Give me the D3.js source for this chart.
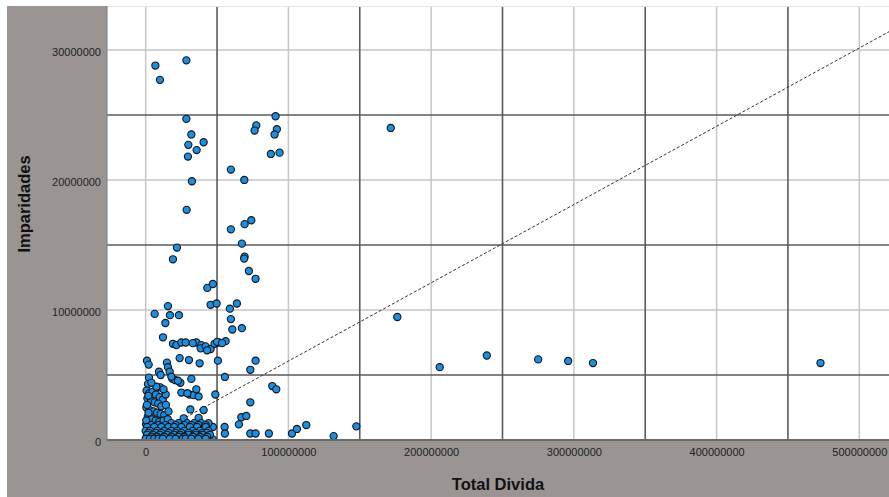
<!DOCTYPE html>
<html>
<head>
<meta charset="utf-8">
<script src="https://cdn.jsdelivr.net/npm/d3@7"></script>
<style>
  html, body { margin: 0; padding: 0; background: #ffffff; }
  svg { display: block; font-family: Arial, "Liberation Sans", sans-serif; }
</style>
</head>
<body>
<svg id="chart" width="889" height="497"></svg>
<script>
// ---------------- DATA (values in millions; UNIT converts to raw) ----------------
const UNIT = 1e6;
const xTitle = "Total Divida";
const yTitle = "Imparidades";
const xTickValues = [0, 100000000, 200000000, 300000000, 400000000, 500000000];
const yTickValues = [0, 10000000, 20000000, 30000000];
const xMidLines = [50000000, 150000000, 250000000, 350000000, 450000000];
const yMidLines = [5000000, 15000000, 25000000];
const fitIntercept = 50000;
const fitSlope = 0.0602;

// Total Divida (millions)
const totalDivida = [
  6.8, 28.5, 10.0, 28.5, 32.0, 29.9, 40.6, 35.7, 29.6, 32.4, 28.7, 59.7, 69.1, 91.0, 77.5, 76.3, 91.9, 90.3, 87.7, 93.8,
  59.7, 69.3, 74.0, 67.4, 21.9, 19.1, 69.3, 69.0, 72.3, 77.0, 43.2, 47.1, 45.5, 49.7, 15.6, 6.3, 17.0, 23.3, 13.8, 59.0,
  63.9, 59.7, 60.7, 67.4, 12.1, 176.3, 171.7,
  19.1, 21.5, 25.0, 28.0, 35.5, 39.0, 38.5, 42.0, 45.5, 48.3, 51.3, 56.0, 50.0, 43.0, 53.5, 33.0,
  23.8, 30.3, 37.8, 50.6, 77.0, 73.3, 0.9, 2.1, 14.9, 15.6, 9.3, 16.8, 18.7, 20.8, 24.3, 32.0, 55.5, 2.3, 1.6, 10.3,
  25.0, 30.8, 33.6, 35.5, 37.1, 48.8, 88.7, 91.5, 73.3, 31.3, 37.1, 40.6, 67.0, 70.5, 65.3, 55.3, 47.1, 73.3, 77.0, 86.3,
  102.5, 106.0, 112.5, 55.5, 131.7, 147.6, 206.0, 239.0, 275.0, 296.0, 313.4, 472.8, 10.5, 18.0, 22.6, 29.2, 26.6, 47.0,
  0.6, 2.5, 4.8, 7.2, 9.8, 12.0, 1.2, 3.8, 6.3, 8.8, 11.0, 14.2, 0.5, 2.8, 5.5, 8.0, 10.5, 13.0, 16.0, 1.5,
  4.2, 7.0, 9.5, 12.5, 15.5, 0.3, 3.0, 5.8, 14.0, 7.5, 12.5, 4.0,
  0.8, 1.8, 0.4, 2.0, 0.9, 1.9,
  18, 23, 29, 34, 39, 44,
  4, 9, 14, 21, 27, 32, 37, 42,
  1, 6, 11, 16, 20, 25, 31, 36, 42,
  0, 3, 8, 13, 18, 22, 27, 33, 38, 44,
  2, 7, 11, 16, 21, 25, 30, 35, 40, 43,
  1, 5, 10, 15, 20, 24, 30, 35, 40, 45,
  4, 8, 13, 18, 23, 27, 33, 38, 43,
  0, 3, 6, 9, 12, 17, 21, 26, 28, 32, 37, 42
];

// Imparidades (millions)
const imparidades = [
  28.8, 29.2, 27.7, 24.7, 23.5, 22.7, 22.9, 22.3, 21.8, 19.9, 17.7, 20.8, 20.0, 24.9, 24.2, 23.8, 23.9, 23.5, 22.0, 22.1,
  16.2, 16.6, 16.9, 15.1, 14.8, 13.9, 14.1, 13.95, 13.0, 12.4, 11.7, 12.0, 10.4, 10.5, 10.3, 9.7, 9.6, 9.6, 9.0, 10.1,
  10.5, 9.3, 8.5, 8.6, 7.9, 9.46, 24.0,
  7.4, 7.3, 7.5, 7.5, 7.5, 7.3, 7.05, 7.2, 7.0, 7.4, 7.5, 7.6, 7.55, 6.9, 7.45, 7.45,
  6.3, 6.15, 5.9, 6.1, 6.1, 5.4, 6.1, 5.8, 5.95, 5.6, 5.25, 5.25, 4.7, 4.6, 4.4, 4.7, 4.85, 4.8, 4.3, 4.05,
  3.65, 3.5, 3.45, 3.9, 3.35, 3.5, 4.15, 3.9, 2.9, 2.35, 1.7, 2.3, 1.75, 1.85, 1.2, 1.0, 1.0, 0.5, 0.5, 0.5,
  0.5, 0.85, 1.15, 0.5, 0.3, 1.05, 5.6, 6.5, 6.2, 6.08, 5.92, 5.92, 5.0, 4.87, 4.56, 3.6, 1.67, 0.05,
  3.8, 3.6, 3.7, 3.5, 3.3, 3.1, 3.2, 3.0, 2.9, 2.8, 2.6, 2.7, 2.5, 2.3, 2.2, 2.1, 2.0, 1.9, 2.2, 1.8,
  1.6, 1.5, 1.4, 1.5, 1.6, 1.2, 1.1, 1.05, 3.5, 4.1, 3.9, 4.4,
  0.3, 0.9, 1.5, 2.1, 2.7, 3.4,
  1.3, 1.3, 1.3, 1.3, 1.3, 1.3,
  1.15, 1.15, 1.15, 1.15, 1.15, 1.15, 1.15, 1.15,
  1.0, 1.0, 1.0, 1.0, 1.0, 1.0, 1.0, 1.0, 1.0,
  0.7, 0.7, 0.7, 0.7, 0.7, 0.7, 0.7, 0.7, 0.7, 0.7,
  0.55, 0.55, 0.55, 0.55, 0.55, 0.55, 0.55, 0.55, 0.55, 0.55,
  0.4, 0.4, 0.4, 0.4, 0.4, 0.4, 0.4, 0.4, 0.4, 0.4,
  0.25, 0.25, 0.25, 0.25, 0.25, 0.25, 0.25, 0.25, 0.25,
  0.1, 0.1, 0.1, 0.1, 0.1, 0.1, 0.1, 0.1, 0.1, 0.1, 0.1, 0.1
];

// ---------------- CHART ----------------
const W = 889, H = 497;
const plot = { left: 107, top: 6, right: 889, bottom: 440 };

const x = d3.scaleLinear().domain([-27.1e6, 520.8e6]).range([plot.left, plot.right]);
const y = d3.scaleLinear().domain([0, 33.38e6]).range([plot.bottom, plot.top]);

const svg = d3.select("#chart");

// gray frame
svg.append("rect").attr("x", 7).attr("y", 6).attr("width", W - 7).attr("height", H - 6).attr("fill", "#9a9593");
// plot background
svg.append("rect").attr("x", plot.left).attr("y", plot.top)
  .attr("width", plot.right - plot.left).attr("height", plot.bottom - plot.top).attr("fill", "#ffffff");

svg.append("defs").append("clipPath").attr("id", "clip").append("rect")
  .attr("x", plot.left).attr("y", plot.top)
  .attr("width", plot.right - plot.left).attr("height", plot.bottom - plot.top);

const grid = svg.append("g");
// light gridlines at labelled ticks
grid.selectAll("line.vl").data(xTickValues).join("line")
  .attr("x1", d => x(d)).attr("x2", d => x(d)).attr("y1", plot.top).attr("y2", plot.bottom)
  .attr("stroke", "#c6c6c6").attr("stroke-width", 1.5);
grid.selectAll("line.hl").data(yTickValues.filter(d => d > 0)).join("line")
  .attr("x1", plot.left).attr("x2", plot.right).attr("y1", d => y(d)).attr("y2", d => y(d))
  .attr("stroke", "#c6c6c6").attr("stroke-width", 1.5);
// dark gridlines at midpoints
grid.selectAll("line.vd").data(xMidLines).join("line")
  .attr("x1", d => x(d)).attr("x2", d => x(d)).attr("y1", plot.top).attr("y2", plot.bottom)
  .attr("stroke", "#5a5a5a").attr("stroke-width", 1.6);
grid.selectAll("line.hd").data(yMidLines).join("line")
  .attr("x1", plot.left).attr("x2", plot.right).attr("y1", d => y(d)).attr("y2", d => y(d))
  .attr("stroke", "#5a5a5a").attr("stroke-width", 1.6);
// top faint line
svg.append("line").attr("x1", plot.left).attr("x2", plot.right).attr("y1", plot.top + 0.5).attr("y2", plot.top + 0.5)
  .attr("stroke", "#e4e4e4").attr("stroke-width", 1);

const points = totalDivida.map((v, i) => ({ x: v * UNIT, y: imparidades[i] * UNIT }));

const body = svg.append("g").attr("clip-path", "url(#clip)");

// fit line
const xd = x.domain();
body.append("line")
  .attr("x1", x(xd[0])).attr("y1", y(fitIntercept + fitSlope * xd[0]))
  .attr("x2", x(xd[1])).attr("y2", y(fitIntercept + fitSlope * xd[1]))
  .attr("stroke", "#333").attr("stroke-width", 1).attr("stroke-dasharray", "3,2");

body.selectAll("circle").data(points).join("circle")
  .attr("cx", d => x(d.x)).attr("cy", d => y(d.y)).attr("r", 3.6)
  .attr("fill", "#1a8fe3").attr("stroke", "#141414").attr("stroke-width", 1.1);

// axis borders
svg.append("line").attr("x1", plot.left).attr("x2", plot.right).attr("y1", plot.bottom).attr("y2", plot.bottom)
  .attr("stroke", "#6a6a6a").attr("stroke-width", 2);
svg.append("line").attr("x1", plot.left).attr("x2", plot.left).attr("y1", plot.top).attr("y2", plot.bottom)
  .attr("stroke", "#7a7a7a").attr("stroke-width", 1);

// axes (labels only)
const xAxis = d3.axisBottom(x).tickValues(xTickValues).tickFormat(d3.format("d")).tickSize(0).tickPadding(0);
const gx = svg.append("g").attr("transform", `translate(0,${plot.bottom + 8})`).call(xAxis);
gx.select(".domain").remove();
gx.selectAll("text").attr("font-size", 11).attr("fill", "#222").attr("font-family", "Arial, 'Liberation Sans', sans-serif");

const yAxis = d3.axisLeft(y).tickValues(yTickValues).tickFormat(d3.format("d")).tickSize(0).tickPadding(0);
const gy = svg.append("g").attr("transform", `translate(${plot.left - 6},2)`).call(yAxis);
gy.select(".domain").remove();
gy.selectAll("text").attr("font-size", 11).attr("fill", "#222").attr("font-family", "Arial, 'Liberation Sans', sans-serif");

// titles
svg.append("text").attr("x", 498).attr("y", 490).attr("text-anchor", "middle")
  .attr("font-size", 16.5).attr("font-weight", "bold").attr("fill", "#111").text(xTitle);
svg.append("text").attr("transform", "translate(30,204) rotate(-90)").attr("text-anchor", "middle")
  .attr("font-size", 16.5).attr("font-weight", "bold").attr("fill", "#111").text(yTitle);
</script>
</body>
</html>
